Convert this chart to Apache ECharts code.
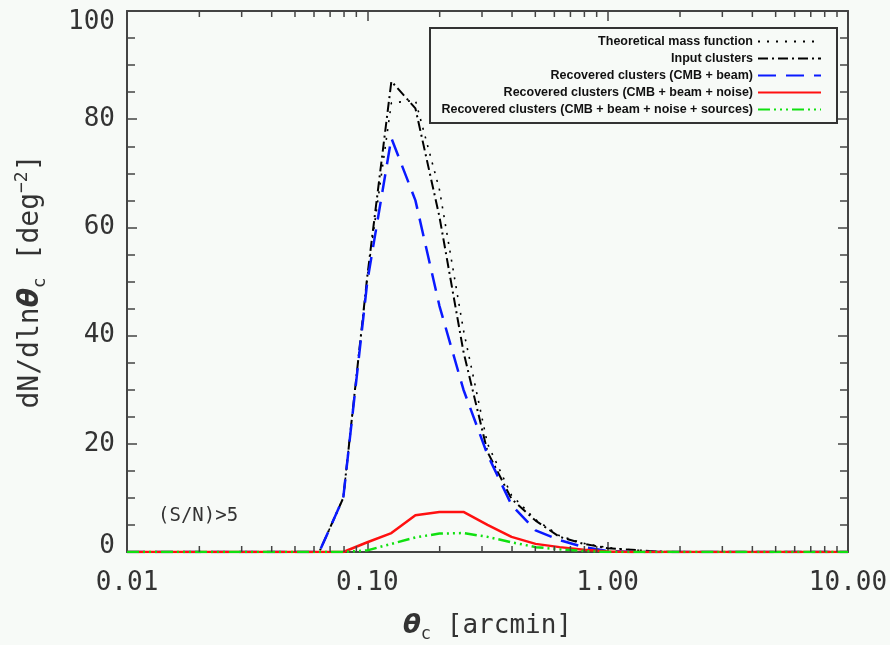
<!DOCTYPE html>
<html>
<head>
<meta charset="utf-8">
<script src="https://cdn.jsdelivr.net/npm/echarts@6/dist/echarts.min.js"></script>
<style>html,body{margin:0;padding:0;background:#f7faf7;}#c{width:890px;height:645px;}</style>
</head>
<body>
<div id="c"></div>
<script>
// theta_c bins [arcmin] (log10 spacing 0.1 from 0.01 to 10)
const theta = [0.0100,0.0126,0.0158,0.0200,0.0251,0.0316,0.0398,0.0501,0.0631,0.0794,
  0.1000,0.1259,0.1585,0.1995,0.2512,0.3162,0.3981,0.5012,0.6310,0.7943,
  1.0000,1.2589,1.5849,1.9953,2.5119,3.1623,3.9811,5.0119,6.3096,7.9433,10.000];
const theory   = [0,0,0,0,0,0,0,0,0,10,51,83,83.5,67,41,20,10.5,6,3,1.6,0.8,0.4,0.1,0,0,0,0,0,0,0,0];
const input    = [0,0,0,0,0,0,0,0,0,10,51,87,82,62,37,18.5,9.8,5.8,2.8,1.5,0.7,0.4,0.1,0,0,0,0,0,0,0,0];
const recBeam  = [0,0,0,0,0,0,0,0,0,10,50,76.5,65,45.5,30,18,8.7,4,2.2,0.9,0.2,0,0,0,0,0,0,0,0,0,0];
const recNoise = [0,0,0,0,0,0,0,0,0,0,1.8,3.5,6.8,7.4,7.4,5,2.8,1.5,0.9,0.4,0.1,0,0,0,0,0,0,0,0,0,0];
const recSrc   = [0,0,0,0,0,0,0,0,0,0,0.3,1.5,2.7,3.4,3.5,2.8,1.8,0.9,0.5,0.2,0,0,0,0,0,0,0,0,0,0,0];
const names = ['Theoretical mass function','Input clusters','Recovered clusters (CMB + beam)',
  'Recovered clusters (CMB + beam + noise)','Recovered clusters (CMB + beam + noise + sources)'];
const xTickLabels = ['0.01','0.10','1.00','10.00'];
const yTicks = [0,20,40,60,80,100];

const minorX = [];
[0.01,0.1,1].forEach(d=>{for(let k=2;k<=9;k++) minorX.push(+(d*k).toPrecision(3));});

const pair = arr => theta.map((t,i)=>[t,arr[i]]);
const mono = 'DejaVu Sans Mono';
const axCol = '#444';
const txtCol = '#333';

const chart = echarts.init(document.getElementById('c'));
const lineSer = (name, arr, color, width, dash, z) => ({
  name, type:'line', data: pair(arr), symbol:'none', showSymbol:false,
  lineStyle:{color, width, type:dash}, itemStyle:{color}, z, animation:false, silent:true
});
const legends = names.map((n,i)=>({
  data:[n], right:68, top:35+17*i, align:'right', orient:'horizontal',
  itemWidth:63, itemHeight:12, padding:0, selectedMode:false, z:10,
  itemStyle:{opacity:0},
  textStyle:{fontFamily:'Liberation Sans', fontWeight:'bold', fontSize:12.5, color:'#111'}
}));
const richName = {
  a:{fontFamily:mono, fontSize:26, color:txtCol, lineHeight:34},
  t:{fontFamily:'DejaVu Sans', fontSize:26, fontStyle:'italic', fontWeight:'bold', color:txtCol, lineHeight:34},
  s:{fontFamily:mono, fontSize:17, color:txtCol, lineHeight:17, verticalAlign:'bottom'},
  p:{fontFamily:mono, fontSize:17, color:txtCol, lineHeight:17, verticalAlign:'top'}
};
const richY = {
  a:{fontFamily:mono, fontSize:28, color:txtCol, lineHeight:36},
  t:{fontFamily:'DejaVu Sans', fontSize:28, fontStyle:'italic', fontWeight:'bold', color:txtCol, lineHeight:36},
  s:{fontFamily:mono, fontSize:18, color:txtCol, lineHeight:18, verticalAlign:'bottom'},
  p:{fontFamily:mono, fontSize:18, color:txtCol, lineHeight:18, verticalAlign:'top'}
};
const tickSer = (nm, yv, off) => ({
  name:nm, type:'scatter', silent:true, clip:false, z:7, animation:false,
  xAxisIndex:0, yAxisIndex:0,
  data: minorX.map(v=>[v,yv]), symbol:'rect', symbolSize:[1.5,6], symbolOffset:[0,off],
  itemStyle:{color:axCol, opacity:1}
});
chart.setOption({
  backgroundColor:'#f7faf7',
  animation:false,
  grid:{left:127, right:42, top:11, bottom:93, containLabel:false, outerBoundsMode:'none'},
  legend: legends,
  xAxis:[{
    type:'log', logBase:10, min:0.01, max:10, position:'bottom',
    axisLine:{onZero:false, lineStyle:{color:axCol, width:2}},
    axisTick:{inside:true, length:10, lineStyle:{color:axCol, width:1.5}},
    splitLine:{show:false},
    axisLabel:{margin:18, fontFamily:mono, fontSize:26, color:txtCol,
      formatter:v=>{const s=v.toFixed(2); return xTickLabels.includes(s)?s:'';}},
    name:'{t|θ}{s|c}{a| [arcmin]}', nameLocation:'middle', nameGap:57,
    nameTextStyle:{rich:richName}
  },{
    type:'log', logBase:10, min:0.01, max:10, position:'top',
    axisLine:{onZero:false, lineStyle:{color:axCol, width:2}},
    axisTick:{inside:true, length:10, lineStyle:{color:axCol, width:1.5}},
    axisLabel:{show:false}, splitLine:{show:false}
  }],
  yAxis:[{
    type:'value', min:0, max:100, interval:20, position:'left',
    axisLine:{show:true, lineStyle:{color:axCol, width:2}},
    axisTick:{inside:true, length:10, lineStyle:{color:axCol, width:1.5}},
    minorTick:{show:true, splitNumber:4, length:8, lineStyle:{color:axCol, width:1.5}},
    splitLine:{show:false}, minorSplitLine:{show:false},
    axisLabel:{margin:12, fontFamily:mono, fontSize:26, color:txtCol,
      formatter:v=>{
        if(!yTicks.includes(v)) return '';
        if(v===100) return '{t|100}';
        if(v===0) return '{b|0}';
        return String(v);
      },
      rich:{
        t:{fontFamily:mono, fontSize:26, color:txtCol, padding:[22,0,0,0]},
        b:{fontFamily:mono, fontSize:26, color:txtCol, padding:[0,0,12,0]}
      }},
    name:'{a|dN/dln}{t|θ}{s|c}{a| [deg}{p|−2}{a|]}', nameLocation:'middle', nameGap:78,
    nameTextStyle:{rich:richY}
  },{
    type:'value', min:0, max:100, interval:20, position:'right',
    axisLine:{show:true, lineStyle:{color:axCol, width:2}},
    axisTick:{inside:true, length:10, lineStyle:{color:axCol, width:1.5}},
    minorTick:{show:true, splitNumber:4, length:8, lineStyle:{color:axCol, width:1.5}},
    splitLine:{show:false}, axisLabel:{show:false}
  }],
  graphic:[
    {type:'rect', shape:{x:430, y:28, width:407, height:95}, style:{fill:'#f7faf7', stroke:'#333', lineWidth:2}, z:0, zlevel:0},
    {type:'text', left:158, top:507, style:{text:'(S/N)>5', fontFamily:mono, fontSize:19, fill:txtCol}, z:5}
  ],
  series:[
    lineSer(names[0], theory, '#000', 1.6, [2,7], 2),
    lineSer(names[1], input, '#000', 2, [10,4,2,4], 3),
    lineSer(names[2], recBeam, '#0a1aff', 2.5, [18,10], 4),
    lineSer(names[3], recNoise, '#ff1010', 2.5, 'solid', 5),
    lineSer(names[4], recSrc, '#10e010', 2.5, [12,4,2,4,2,4,2,4], 6),
    tickSer('minorBottom', 0, -3),
    tickSer('minorTop', 100, 3)
  ]
});
</script>
</body>
</html>
